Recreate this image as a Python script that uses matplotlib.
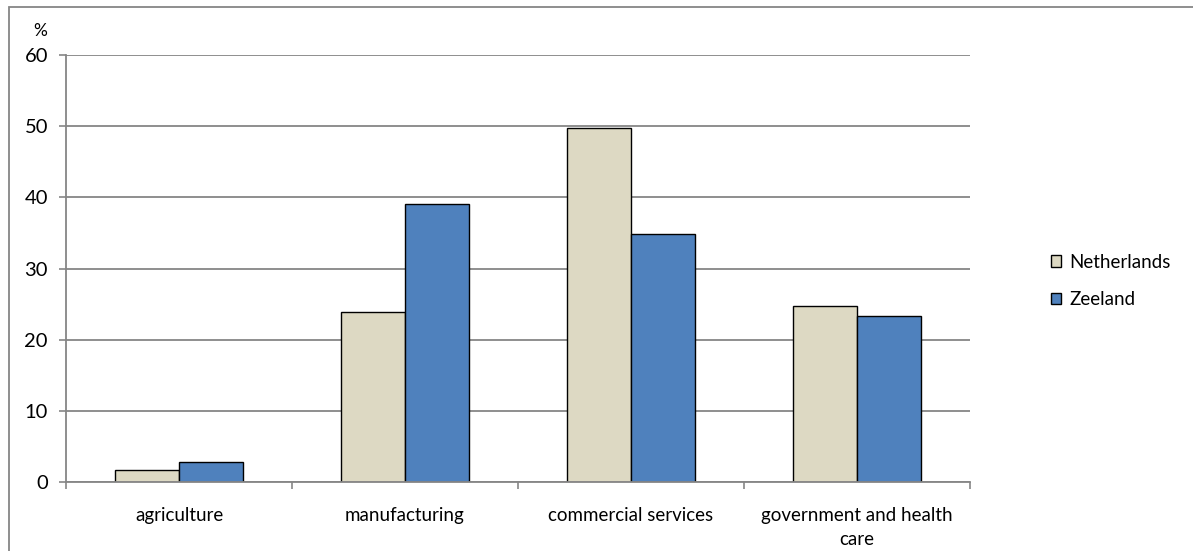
import matplotlib
matplotlib.use("Agg")
import matplotlib.pyplot as plt
from matplotlib.patches import Rectangle, Patch
import numpy as np

plt.rcParams['font.family'] = ['Lato', 'DejaVu Sans']

categories = ['agriculture', 'manufacturing', 'commercial services',
              'government and health\ncare']
netherlands = [1.7, 23.9, 49.7, 24.7]
zeeland = [2.8, 39.1, 34.8, 23.3]
series_names = ['Netherlands', 'Zeeland']
yticks = [0, 10, 20, 30, 40, 50, 60]

col_nl = '#DDD9C3'
col_ze = '#4F81BD'
grey = '#868686'

fig = plt.figure(figsize=(11.93, 5.51), dpi=100)
ax = fig.add_axes([66 / 1193, 1 - 482 / 551, 904 / 1193, 427 / 551])

x = np.arange(len(categories))
w = 0.285
ax.bar(x - w / 2, netherlands, w, color=col_nl, edgecolor='black', linewidth=1.0, zorder=3)
ax.bar(x + w / 2, zeeland, w, color=col_ze, edgecolor='black', linewidth=1.0, zorder=3)

ax.set_xlim(-0.5, len(categories) - 0.5)
ax.set_ylim(0, 60)
ax.set_yticks(yticks)
ax.yaxis.grid(True, color=grey, linewidth=1.3, zorder=0)
ax.set_axisbelow(True)

ax.set_xticks(x)
ax.set_xticklabels(categories, fontsize=13.5, linespacing=1.5, va='top')
ax.set_xticks(np.arange(-0.5, len(categories)), minor=True)
ax.tick_params(axis='x', which='major', length=0, pad=18)
ax.tick_params(axis='x', which='minor', length=5, color=grey, width=1.2)
ax.tick_params(axis='y', length=5, color=grey, width=1.2, pad=8, labelsize=14.5)

for s in ['top', 'right']:
    ax.spines[s].set_visible(False)
for s in ['left', 'bottom']:
    ax.spines[s].set_color(grey)
    ax.spines[s].set_linewidth(1.3)
ax.spines['bottom'].set_zorder(4)

fig.text(40 / 1193, 1 - 31 / 551, '%', fontsize=12.5, ha='center', va='center')

handles = [Patch(facecolor=col_nl, edgecolor='black'),
           Patch(facecolor=col_ze, edgecolor='black')]
fig.legend(handles, series_names, loc='center left',
           bbox_to_anchor=(1034 / 1193, 1 - 281 / 551), frameon=False,
           fontsize=13.5, handlelength=0.55, handleheight=0.55, handletextpad=0.45,
           labelspacing=1.1)

# outer chart border
fig.patches.append(Rectangle((9 / 1193, -0.01), 1.0, 1 - 7 / 551 + 0.01,
                             transform=fig.transFigure, fill=False,
                             edgecolor=grey, linewidth=1.3))

fig.savefig('out.png', dpi=100)
